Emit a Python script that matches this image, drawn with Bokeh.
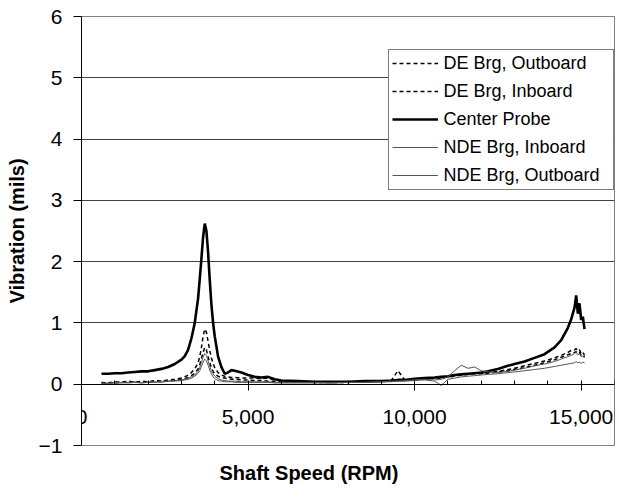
from bokeh.plotting import figure
from bokeh.models import (Range1d, SingleIntervalTicker, NumeralTickFormatter,
                          Legend, LegendItem, Title)
from bokeh.embed import file_html
from bokeh.resources import INLINE

# ---------------- data ----------------
rpm = [600, 800, 1000, 1200, 1400, 1600, 1800, 2000, 2200, 2400,
       2600, 2800, 3000, 3100, 3200, 3300, 3400, 3500, 3550, 3600,
       3650, 3700, 3750, 3800, 3850, 3900, 3950, 4000, 4100, 4200,
       4300, 4400, 4500, 4600, 4800, 5000, 5200, 5400, 5600, 5800,
       6000, 6500, 7000, 7500, 8000, 8500, 9000, 9300, 9500, 9700,
       10000, 10300, 10600, 10800, 11000, 11200, 11400, 11600, 11800, 12000,
       12200, 12500, 12800, 13000, 13300, 13600, 13900, 14200, 14400, 14600,
       14700, 14800, 14850, 14900, 14950, 15000, 15050, 15100]

de_outboard = [0.03, 0.02, 0.04, 0.03, 0.04, 0.03, 0.05, 0.04, 0.06, 0.05,
               0.07, 0.08, 0.10, 0.12, 0.15, 0.19, 0.25, 0.35, 0.45, 0.60,
               0.78, 0.90, 0.85, 0.70, 0.55, 0.43, 0.34, 0.27, 0.19, 0.15,
               0.13, 0.12, 0.11, 0.11, 0.10, 0.10, 0.10, 0.09, 0.10, 0.07,
               0.05, 0.04, 0.03, 0.03, 0.03, 0.04, 0.05, 0.06, 0.07, 0.07,
               0.08, 0.09, 0.10, 0.11, 0.12, 0.14, 0.16, 0.17, 0.18, 0.18,
               0.19, 0.21, 0.24, 0.26, 0.30, 0.34, 0.38, 0.43, 0.47, 0.52,
               0.55, 0.56, 0.58, 0.54, 0.56, 0.50, 0.52, 0.47]

de_inboard = [0.02, 0.03, 0.02, 0.03, 0.05, 0.03, 0.04, 0.03, 0.05, 0.04,
              0.06, 0.06, 0.08, 0.09, 0.11, 0.14, 0.18, 0.25, 0.32, 0.42,
              0.52, 0.60, 0.56, 0.45, 0.35, 0.27, 0.21, 0.17, 0.13, 0.11,
              0.10, 0.09, 0.08, 0.08, 0.07, 0.07, 0.06, 0.06, 0.05, 0.05,
              0.04, 0.04, 0.03, 0.04, 0.03, 0.04, 0.05, 0.06, 0.22, 0.07,
              0.08, 0.09, 0.10, 0.10, 0.12, 0.13, 0.15, 0.16, 0.17, 0.17,
              0.18, 0.20, 0.22, 0.24, 0.27, 0.31, 0.35, 0.40, 0.44, 0.48,
              0.50, 0.52, 0.53, 0.50, 0.52, 0.47, 0.48, 0.44]

center_probe = [0.17, 0.17, 0.18, 0.18, 0.19, 0.20, 0.21, 0.21, 0.23, 0.25,
                0.28, 0.33, 0.40, 0.46, 0.56, 0.75, 1.00, 1.40, 1.72, 2.05,
                2.40, 2.62, 2.50, 2.15, 1.70, 1.30, 1.00, 0.78, 0.45, 0.28,
                0.17, 0.19, 0.23, 0.22, 0.19, 0.15, 0.12, 0.11, 0.12, 0.08,
                0.06, 0.05, 0.04, 0.04, 0.04, 0.05, 0.05, 0.06, 0.07, 0.07,
                0.09, 0.10, 0.11, 0.12, 0.13, 0.15, 0.16, 0.17, 0.18, 0.19,
                0.21, 0.25, 0.30, 0.33, 0.37, 0.43, 0.49, 0.60, 0.72, 0.92,
                1.06, 1.25, 1.45, 1.15, 1.32, 1.05, 1.10, 0.90]

nde_inboard = [0.01, 0.02, 0.03, 0.02, 0.03, 0.04, 0.02, 0.04, 0.03, 0.05,
               0.05, 0.06, 0.07, 0.08, 0.10, 0.12, 0.15, 0.21, 0.27, 0.35,
               0.44, 0.50, 0.47, 0.38, 0.29, 0.22, 0.17, 0.13, 0.09, 0.07,
               0.06, 0.05, 0.05, 0.05, 0.04, 0.04, 0.04, 0.04, 0.04, 0.03,
               0.03, 0.03, 0.03, 0.02, 0.03, 0.03, 0.04, 0.05, 0.05, 0.06,
               0.07, 0.08, 0.07, 0.08, 0.12, 0.22, 0.31, 0.26, 0.28, 0.22,
               0.20, 0.19, 0.21, 0.23, 0.26, 0.30, 0.33, 0.37, 0.41, 0.45,
               0.47, 0.50, 0.52, 0.48, 0.50, 0.45, 0.46, 0.43]

nde_outboard = [0.02, 0.01, 0.02, 0.03, 0.02, 0.03, 0.02, 0.03, 0.04, 0.03,
                0.05, 0.05, 0.06, 0.07, 0.08, 0.10, 0.13, 0.18, 0.22, 0.29,
                0.36, 0.41, 0.38, 0.31, 0.23, 0.17, 0.12, 0.09, 0.06, 0.05,
                0.04, 0.04, 0.04, 0.03, 0.03, 0.03, 0.03, 0.03, 0.03, 0.02,
                0.02, 0.02, 0.02, 0.02, 0.03, 0.03, 0.04, 0.04, 0.05, 0.05,
                0.06, 0.07, 0.05, -0.02, 0.08, 0.10, 0.12, 0.13, 0.14, 0.15,
                0.16, 0.17, 0.19, 0.20, 0.22, 0.24, 0.26, 0.29, 0.31, 0.33,
                0.34, 0.35, 0.37, 0.35, 0.36, 0.34, 0.36, 0.35]

series_names = ["DE Brg, Outboard", "DE Brg, Inboard", "Center Probe",
                "NDE Brg, Inboard", "NDE Brg, Outboard"]
x_label = "Shaft Speed (RPM)"
y_label = "Vibration (mils)"

FONT = "Liberation Sans"

p = figure(width=619, height=498, output_backend="svg", toolbar_location=None,
           x_range=Range1d(0, 16000), y_range=Range1d(-1, 6),
           min_border_left=81, min_border_right=5, min_border_top=16,
           min_border_bottom=53)
p.background_fill_color = "white"
p.border_fill_color = "white"
p.outline_line_color = "#808080"
p.outline_line_width = 1

r1 = p.line(rpm, de_outboard, line_color="black", line_width=1.5, line_dash="4 3")
r2 = p.line(rpm, de_inboard, line_color="black", line_width=1.5, line_dash="4 3")
r3 = p.line(rpm, center_probe, line_color="black", line_width=2.6)
r4 = p.line(rpm, nde_inboard, line_color="#555555", line_width=1)
r5 = p.line(rpm, nde_outboard, line_color="#555555", line_width=1)

# x axis crossing at y = 0
xa = p.xaxis[0]
xa.fixed_location = 0
xa.ticker = SingleIntervalTicker(interval=5000, num_minor_ticks=5)
xa.formatter = NumeralTickFormatter(format="0,0")
xa.axis_line_color = "black"
xa.major_tick_line_color = "black"
xa.minor_tick_line_color = "black"
xa.major_tick_in = 2
xa.major_tick_out = 6
xa.minor_tick_in = 4
xa.minor_tick_out = 0
xa.major_label_standoff = 20
xa.major_label_text_font = FONT
xa.major_label_text_font_size = "21px"
xa.major_label_text_color = "black"

ya = p.yaxis[0]
ya.ticker = SingleIntervalTicker(interval=1, num_minor_ticks=0)
ya.axis_line_color = "black"
ya.major_tick_line_color = "black"
ya.major_tick_in = 0
ya.major_tick_out = 8
ya.major_label_standoff = 11
ya.major_label_text_font = FONT
ya.major_label_text_font_size = "21px"
ya.major_label_text_color = "black"
ya.axis_label = y_label
ya.axis_label_text_font = FONT
ya.axis_label_text_font_style = "bold"
ya.axis_label_text_font_size = "20px"
ya.axis_label_text_color = "black"
ya.axis_label_standoff = 8

p.xgrid.visible = False
p.ygrid.grid_line_color = "#404040"
p.ygrid.grid_line_width = 1

p.add_layout(Title(text=x_label, align="left", offset=138, standoff=28,
                   text_font=FONT, text_font_style="bold",
                   text_font_size="20px", text_color="black"), "below")

legend = Legend(items=[LegendItem(label=n, renderers=[r])
                       for n, r in zip(series_names, [r1, r2, r3, r4, r5])],
                location=(306.5, 255.5))
legend.border_line_color = "black"
legend.border_line_width = 1
legend.background_fill_color = "white"
legend.background_fill_alpha = 1
legend.label_text_font = FONT
legend.label_text_font_size = "18px"
legend.label_text_color = "black"
legend.glyph_width = 46
legend.glyph_height = 20
legend.label_height = 20
legend.spacing = 7
legend.padding = 3
legend.margin = 0
legend.label_standoff = 6
legend.label_width = 166
p.add_layout(legend)

open("out.html", "w").write(file_html(p, INLINE))
